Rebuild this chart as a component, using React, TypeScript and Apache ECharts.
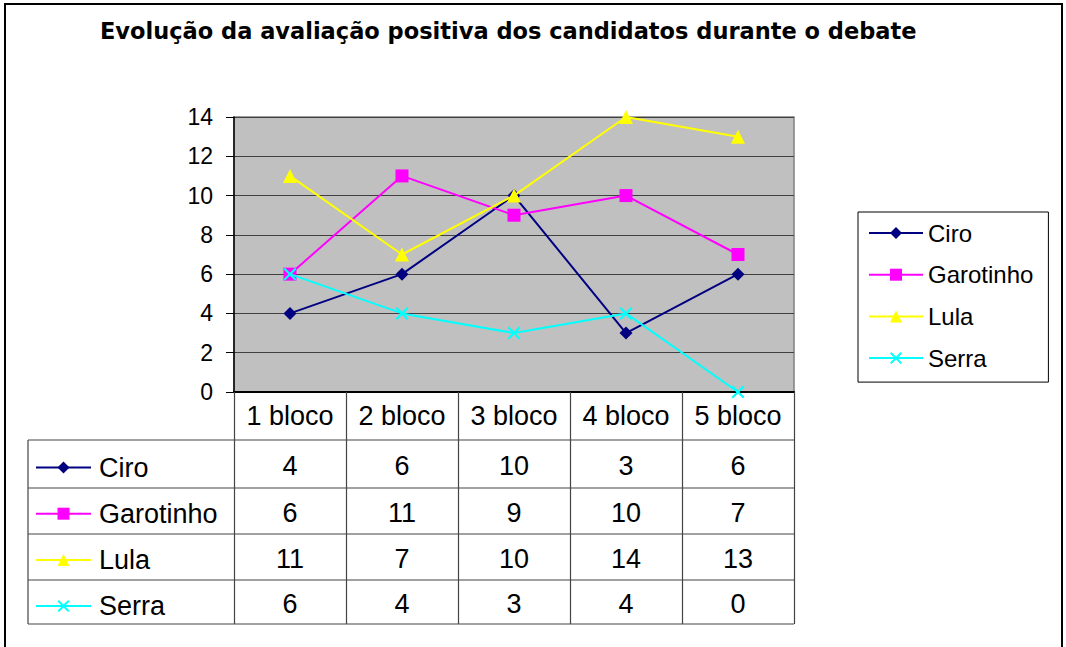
import React, { useEffect, useRef } from "react";
import * as echarts from "echarts";

const categories = ["1 bloco", "2 bloco", "3 bloco", "4 bloco", "5 bloco"];
const seriesNames = ["Ciro", "Garotinho", "Lula", "Serra"];
const ciro = [4, 6, 10, 3, 6];
const garotinho = [6, 11, 9, 10, 7];
const lula = [11, 7, 10, 14, 13];
const serra = [6, 4, 3, 4, 0];
const seriesValues = [ciro, garotinho, lula, serra];
const titleText = "Evolução da avaliação positiva dos candidatos durante o debate";

const FONT = "'Liberation Sans', Arial, sans-serif";
const TITLE_FONT = "'DejaVu Sans', 'Liberation Sans', Arial, sans-serif";
const colors = ["#000080", "#FF00FF", "#FFFF00", "#00FFFF"];
const CROSS =
  "path://M0,1.4L1.4,0L6,4.6L10.6,0L12,1.4L7.4,6L12,10.6L10.6,12L6,7.4L1.4,12L0,10.6L4.6,6Z";
const symbols = ["diamond", "rect", "triangle", CROSS];
const symbolSizes = [13, 13, 14, 13];

// layout
const W = 1066;
const H = 647;
const gridL = 234;
const gridR = 794;
const gridT = 117;
const gridB = 392;
const tableL = 28;
const rowLines = [440, 488, 534, 580, 624];

export default function App() {
  const ref = useRef<HTMLDivElement>(null);
  useEffect(() => {
    if (!ref.current) return;
    const chart = echarts.init(ref.current, undefined, { renderer: "svg" });
    const colW = (gridR - gridL) / categories.length;
    const graphics: any[] = [];
    // outer border
    graphics.push({
      type: "rect",
      shape: { x: 5, y: 4, width: 1057, height: 700 },
      style: { fill: "none", stroke: "#000", lineWidth: 2 },
      silent: true,
    });
    // table horizontal lines
    rowLines.forEach((y) => {
      graphics.push({
        type: "line",
        shape: { x1: tableL, y1: y, x2: gridR, y2: y },
        style: { stroke: "#444", lineWidth: 1.2 },
        silent: true,
      });
    });
    graphics.push({
      type: "line",
      shape: { x1: tableL, y1: rowLines[0], x2: tableL, y2: rowLines[rowLines.length - 1] },
      style: { stroke: "#444", lineWidth: 1.2 },
      silent: true,
    });
    // table values
    seriesValues.forEach((vals, r) => {
      const yc = (rowLines[r] + rowLines[r + 1]) / 2 + 2;
      vals.forEach((v, c) => {
        graphics.push({
          type: "text",
          x: gridL + colW * (c + 0.5),
          y: yc,
          style: {
            text: String(v),
            font: `27px ${FONT}`,
            fill: "#000",
            align: "center",
            verticalAlign: "middle",
          },
          silent: true,
        });
      });
    });

    const legendData = seriesNames.map((n) => ({ name: n }));

    chart.setOption({
      animation: false,
      backgroundColor: "#fff",
      title: {
        text: titleText,
        left: 95,
        top: 14,
        textStyle: { fontFamily: TITLE_FONT, fontSize: 22.5, fontWeight: "bold", color: "#000" },
      },
      grid: {
        left: gridL,
        right: W - gridR,
        top: gridT,
        bottom: H - gridB,
        show: true,
        backgroundColor: "#C0C0C0",
        borderColor: "#808080",
        borderWidth: 1.5,
      },
      legend: [
        {
          data: legendData,
          orient: "vertical",
          left: 858,
          top: 212,
          padding: [9, 15, 12, 10],
          itemGap: 17.7,
          itemWidth: 54,
          itemHeight: 15,
          borderColor: "#000",
          borderWidth: 1,
          textStyle: { fontFamily: FONT, fontSize: 24, color: "#000" },
          selectedMode: false,
        },
        {
          data: legendData,
          orient: "vertical",
          left: 35,
          top: 454,
          padding: 0,
          itemGap: 19.2,
          itemWidth: 55,
          itemHeight: 15,
          textStyle: { fontFamily: FONT, fontSize: 27, color: "#000", padding: [0, 0, 0, 3] },
          selectedMode: false,
        },
      ],
      xAxis: {
        type: "category",
        data: categories,
        boundaryGap: true,
        axisLine: { show: true, lineStyle: { color: "#000", width: 2 } },
        axisTick: {
          show: true,
          interval: 0,
          length: rowLines[rowLines.length - 1] - gridB,
          lineStyle: { color: "#444", width: 1.2 },
        },
        axisLabel: {
          interval: 0,
          margin: 10,
          fontFamily: FONT,
          fontSize: 27,
          color: "#000",
        },
        splitLine: { show: false },
      },
      yAxis: {
        type: "value",
        min: 0,
        max: 14,
        interval: 2,
        axisLine: { show: true, lineStyle: { color: "#000", width: 1.5 } },
        axisTick: { show: true, length: 8, lineStyle: { color: "#000" } },
        axisLabel: { margin: 21, fontFamily: FONT, fontSize: 23, color: "#000" },
        splitLine: { show: true, lineStyle: { color: "#404040", width: 1 } },
      },
      series: seriesNames.map((name, i) => ({
        name,
        type: "line",
        data: seriesValues[i],
        symbol: symbols[i],
        symbolSize: symbolSizes[i],
        showAllSymbol: true,
        clip: false,
        lineStyle: { color: colors[i], width: 2 },
        itemStyle: { color: colors[i] },
        z: 3 + i,
      })),
      graphic: graphics,
    });
    return () => chart.dispose();
  }, []);
  return (
    <div
      ref={ref}
      style={{ position: "absolute", left: 0, top: 0, width: W, height: H }}
    />
  );
}
